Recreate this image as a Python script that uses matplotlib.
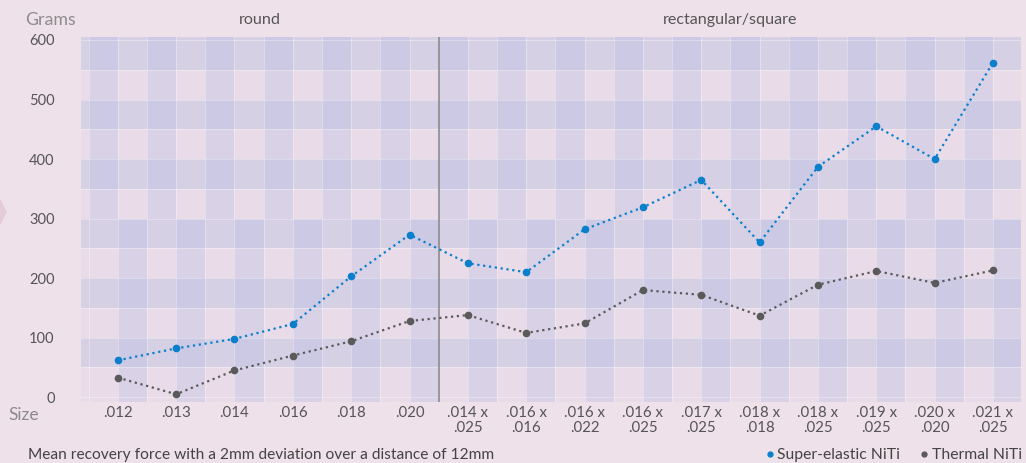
import matplotlib.pyplot as plt
import numpy as np
from matplotlib.patches import Rectangle, Polygon
from matplotlib.lines import Line2D

# 数据
sizes = ['.012', '.013', '.014', '.016', '.018', '.020',
         '.014 x\n.025', '.016 x\n.016', '.016 x\n.022', '.016 x\n.025', '.017 x\n.025',
         '.018 x\n.018', '.018 x\n.025', '.019 x\n.025', '.020 x\n.020', '.021 x\n.025']
super_elastic = [62, 82, 98, 123, 203, 273, 225, 210, 282, 319, 365, 260, 387, 455, 400, 562]
thermal = [33, 5, 45, 70, 94, 128, 138, 108, 124, 180, 172, 137, 189, 212, 192, 213]
groups = ['round', 'rectangular/square']
y_ticks = [0, 100, 200, 300, 400, 500, 600]

blue = '#0a7fcc'
grey = '#5a5a5a'
text_col = '#555555'
label_col = '#8c8c8c'

plt.rcParams['font.family'] = ['Lato', 'DejaVu Sans']

fig = plt.figure(figsize=(10.26, 4.63), dpi=100, facecolor='#EEE1EA')
ax = fig.add_axes([81 / 1026, 61 / 463, 940 / 1026, 365 / 463])
ax.set_facecolor('#E9DCE8')

x = np.arange(len(sizes))
x_lo, x_hi = -0.63, 15.48
y_lo, y_hi = -8, 605
ax.set_xlim(x_lo, x_hi)
ax.set_ylim(y_lo, y_hi)

# 背景格子
band = '#B6BCE2'
for y0 in range(50, 600, 100):
    top = y_hi if y0 == 550 else y0 + 50
    ax.add_patch(Rectangle((x_lo, y0), x_hi - x_lo, top - y0,
                           color=band, alpha=0.36, lw=0, zorder=0))
for i in x:
    ax.add_patch(Rectangle((i - 0.5, 300), 0.5, y_hi - 300, color=band, alpha=0.3, lw=0, zorder=0))
    ax.add_patch(Rectangle((i, y_lo), 0.5, 300 - y_lo, color=band, alpha=0.3, lw=0, zorder=0))
for xv in np.arange(-0.5, 15.6, 0.5):
    ax.axvline(xv, color='white', alpha=0.3, lw=0.8, zorder=0.5)
for yv in range(0, 601, 50):
    ax.axhline(yv, color='white', alpha=0.3, lw=0.8, zorder=0.5)

# 分隔线
ax.axvline(5.5, color='#8a8a8a', lw=1.2, zorder=1)

ax.plot(x, super_elastic, ls=':', lw=1.6, color=blue, marker='o', markersize=4.5, zorder=3)
ax.plot(x, thermal, ls=':', lw=1.6, color=grey, marker='o', markersize=4.5, zorder=3)

for s in ax.spines.values():
    s.set_visible(False)
ax.set_xticks(x)
ax.set_xticklabels(sizes, linespacing=1.05, multialignment='center')
ax.set_yticks(y_ticks)
ax.tick_params(length=0, colors=text_col)
ax.tick_params(axis='x', pad=3, labelsize=10.8)
ax.tick_params(axis='y', pad=19, labelsize=10.5)

# 文字
fig.text(51 / 1026, 1 - 20 / 463, 'Grams', color=label_col, fontsize=12.8, ha='center', va='center')
fig.text(24 / 1026, 1 - 415 / 463, 'Size', color=label_col, fontsize=12.5, ha='center', va='center')
fig.text(260 / 1026, 1 - 20 / 463, groups[0], color=text_col, fontsize=11.6, ha='center', va='center')
fig.text(730 / 1026, 1 - 20 / 463, groups[1], color=text_col, fontsize=11.6, ha='center', va='center')
fig.text(28 / 1026, 1 - 455 / 463, 'Mean recovery force with a 2mm deviation over a distance of 12mm',
         color='#444444', fontsize=11.2, ha='left', va='center')

handles = [Line2D([], [], marker='o', ls='', color=blue, markersize=3.5),
           Line2D([], [], marker='o', ls='', color=grey, markersize=3.5)]
fig.legend(handles, ['Super-elastic NiTi', 'Thermal NiTi'], loc='center right',
           bbox_to_anchor=(1022 / 1026, 1 - 455 / 463), ncol=2, frameon=False, fontsize=11.3,
           handlelength=0.4, handletextpad=0.3, columnspacing=1.3, labelcolor='#444444',
           borderaxespad=0, borderpad=0)

# 左边小三角
fig.add_artist(Polygon([[0, 1 - 200 / 463], [6 / 1026, 1 - 212 / 463], [0, 1 - 224 / 463]],
                       closed=True, color='#E3CCD8', transform=fig.transFigure))

fig.savefig('out.png', dpi=100, facecolor=fig.get_facecolor())
